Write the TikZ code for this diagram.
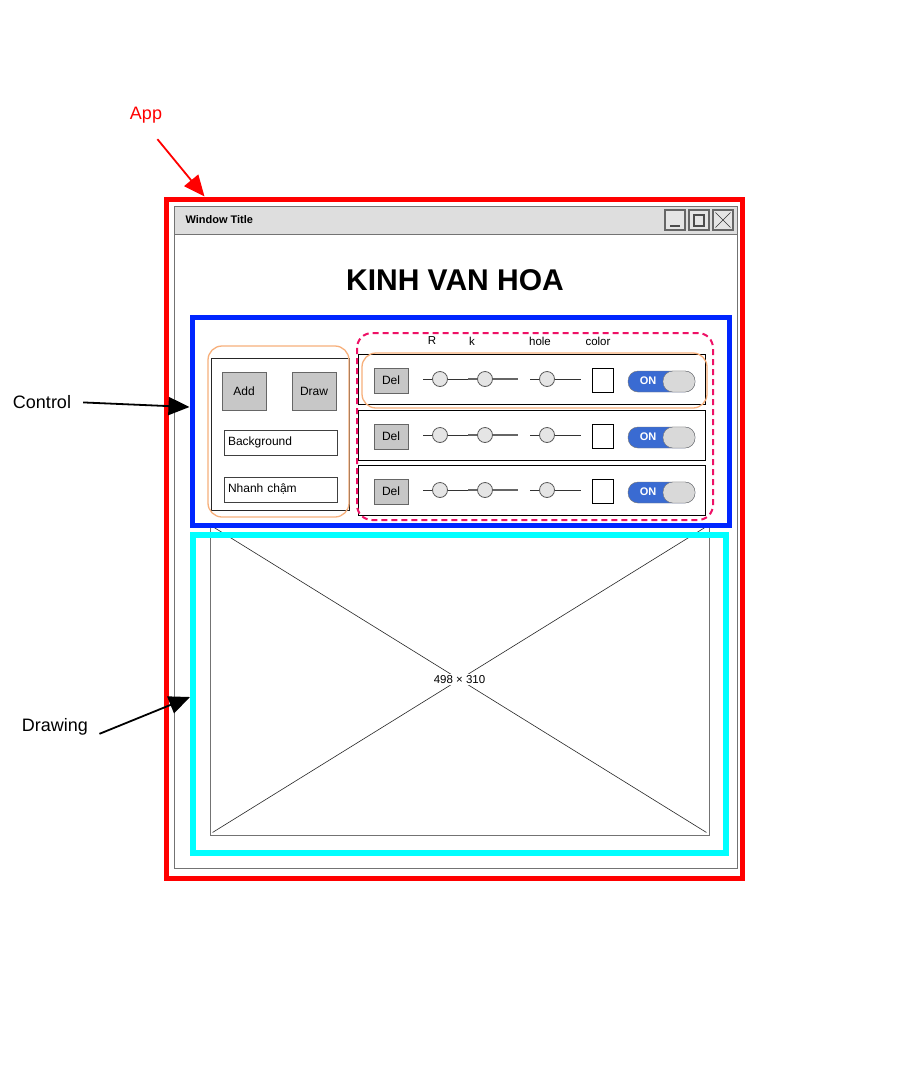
\documentclass[tikz,border=0pt]{standalone}
\usepackage{fontspec}
\setmainfont{Liberation Sans}
\usetikzlibrary{arrows.meta,positioning}
\definecolor{appred}{HTML}{FF0000}
\definecolor{ctrlblue}{HTML}{0026FF}
\definecolor{drawcyan}{HTML}{00FFFF}
\definecolor{peach}{HTML}{F7B07C}
\definecolor{pinkdash}{HTML}{EE1166}
\definecolor{onblue}{HTML}{3A6BD2}
\tikzset{
  frame/.style={draw, line width=5pt, inner sep=0pt},
  bigarrow/.style={line width=1.8pt, -{Triangle[length=21pt,width=18pt]}},
  lbl/.style={font=\fontsize{18}{21}\selectfont, inner sep=2pt},
  btn/.style={draw=black!60, fill=black!22, line width=1pt, font=\fontsize{12}{14}\selectfont, inner sep=0pt},
  field/.style={draw=black!75, line width=0.8pt, font=\fontsize{12}{14}\selectfont, text width=105pt, inner xsep=4pt, minimum height=25pt, align=left},
  knob/.style={circle, draw=black!65, fill=black!10, line width=0.8pt, minimum size=15pt, inner sep=0pt},
  small/.style={font=\fontsize{11.5}{13}\selectfont, inner sep=1pt}
}
\begin{document}
\begin{tikzpicture}[x=1pt,y=-1pt]
  \useasboundingbox (0,0) rectangle (912,1074);

  % Window
  \draw[black!55, fill=white] (174,206) rectangle (737,868);
  \draw[black!55, fill=black!13] (174,206) rectangle (737,234);
  \node[anchor=west, font=\bfseries\fontsize{11}{13}\selectfont] (wintitle) at (182,220) {Window Title};
  \foreach \b/\x in {min/675, max/699, close/723} {
      \node[draw=black!60, line width=1.2pt, fill=white!90!black, minimum size=20pt, inner sep=0pt] (\b) at (\x,220) {};
    }
  \draw[black!70, line width=1.2pt] ([xshift=-5pt,yshift=-6pt]min.center) -- ([xshift=5pt,yshift=-6pt]min.center);
  \draw[black!70, line width=1.2pt] ([xshift=-5pt,yshift=-6pt]max.center) rectangle ([xshift=5pt,yshift=5pt]max.center);
  \draw[black!80] ([shift={(3pt,-3pt)}]close.north west) -- ([shift={(-3pt,3pt)}]close.south east)
                  ([shift={(-3pt,-3pt)}]close.north east) -- ([shift={(3pt,3pt)}]close.south west);
  \node[font=\bfseries\fontsize{30}{33}\selectfont] (title) at (455,280) {KINH VAN HOA};

  % Drawing placeholder
  \node[draw=black!55, line width=0.9pt, minimum width=499pt, minimum height=311pt, inner sep=0pt] (canvas) at (459.5,679.5) {};
  \draw[black!85, line width=0.6pt] ([shift={(3pt,-3pt)}]canvas.north west) -- ([shift={(-3pt,3pt)}]canvas.south east)
                                    ([shift={(-3pt,-3pt)}]canvas.north east) -- ([shift={(3pt,3pt)}]canvas.south west);
  \node[fill=white, small] (size) at (canvas.center) {498 × 310};

  % Left panel
  \draw[black!85, line width=0.8pt] (211,358) rectangle (349,510);
  \draw[peach, line width=1.3pt, rounded corners=14pt] (208,346) rectangle (349,517);
  \node[btn, minimum width=44pt, minimum height=38pt] (add) at (244,391) {Add};
  \node[btn, minimum width=44pt, minimum height=38pt] (drawbtn) at (314,391) {Draw};
  \node[field] (background) at (280.5,442.5) {Background};
  \node[field] (speed) at (280.5,489.5) {Nhanh chậm};

  % Column labels
  \foreach \c/\x/\t in {colr/432/R, colk/472/k, colhole/540/hole, colcolor/598/color} {
      \node[small] (\c) at (\x,341) {\t};
    }

  % Rows
  \foreach \r/\y in {1/379, 2/435, 3/490} {
      \node[draw, line width=0.8pt, minimum width=347pt, minimum height=50pt, inner sep=0pt] (row\r) at (531.5,\y) {};
      \node[btn, minimum width=34pt, minimum height=25pt] (del\r) at (391,\y+1.5) {Del};
      \draw[black!80, line width=0.8pt] (423,\y) -- (470,\y);
      \draw[black!60, line width=1.3pt] (468,\y) -- (518,\y);
      \draw[black!80, line width=0.8pt] (530,\y) -- (581,\y);
      \node[knob] (kr\r) at (440,\y) {};
      \node[knob] (kk\r) at (485,\y) {};
      \node[knob] (kh\r) at (547,\y) {};
      \node[draw, line width=0.8pt, minimum width=21pt, minimum height=24pt, inner sep=0pt] (col\r) at (602.5,\y+1) {};
      \draw[black!55, fill=onblue, rounded corners=10pt] (628,\y-8) rectangle (695,\y+13);
      \draw[black!55, fill=black!15, rounded corners=10pt] (663,\y-8) rectangle (695,\y+13);
      \node[text=white, font=\bfseries\fontsize{11}{13}\selectfont] (on\r) at (648,\y+2) {ON};
    }
  \draw[peach, line width=1.3pt, rounded corners=14pt] (362,353) rectangle (707,408);
  \draw[pinkdash, line width=2pt, dash pattern=on 6pt off 4pt, rounded corners=15pt] (357,333) rectangle (713,520);

  % Frames
  \node[frame, draw=ctrlblue, minimum width=537pt, minimum height=208pt] (control) at (460.5,421) {};
  \node[frame, draw=drawcyan, line width=6pt, minimum width=533pt, minimum height=318pt] (drawing) at (459.5,694) {};
  \node[frame, draw=appred, minimum width=576pt, minimum height=679pt] (app) at (454,538.5) {};

  % Labels
  \node[lbl, text=appred] (applbl) at (146,115) {App};
  \node[lbl] (ctrllbl) at (42,402) {Control};
  \node[lbl] (drawlbl) at (55,727) {Drawing};
  \draw[bigarrow, appred, shorten <=18pt] (applbl.south) -- ([xshift=41pt]app.north west);
  \draw[bigarrow, shorten <=10pt] (ctrllbl.east) -- ([yshift=14pt]control.west);
  \draw[bigarrow, shorten <=10pt] (drawlbl.south east) -- ([yshift=-3pt]drawing.west);
\end{tikzpicture}
\end{document}
